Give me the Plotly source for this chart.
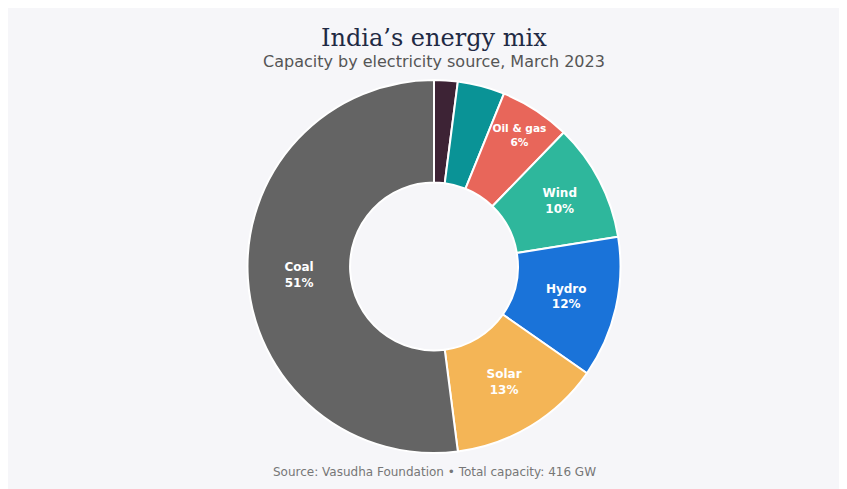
import plotly.graph_objects as go

labels = ["Nuclear", "Bioenergy", "Oil & gas", "Wind", "Hydro", "Solar", "Coal"]
shares = [2, 4, 6, 10, 12, 13, 51]
show_text = [False, False, True, True, True, True, True]
colors = ["#3D2335", "#0A9396", "#E8665A", "#2EB79C", "#1A73D9", "#F4B556", "#646464"]

texts = [f"<b>{l}<br>{v}%</b>" if s else "" for l, v, s in zip(labels, shares, show_text)]

fig = go.Figure(
    go.Pie(
        labels=labels,
        values=shares,
        text=texts,
        textinfo="text",
        textposition="inside",
        insidetextorientation="horizontal",
        hole=0.45,
        sort=False,
        direction="clockwise",
        rotation=0,
        marker=dict(colors=colors, line=dict(color="white", width=2)),
        textfont=dict(family="DejaVu Sans, sans-serif", size=12, color="white"),
        showlegend=False,
    )
)

T, B, L, R = 72, 44, 5, 0
plot_h = 489 - T - B
def py(ypix):
    return (489 - B - ypix) / plot_h

fig.update_layout(
    width=847,
    height=489,
    paper_bgcolor="#F6F6F9",
    plot_bgcolor="#F6F6F9",
    margin=dict(t=T, b=B, l=L, r=R),
    annotations=[
        dict(text="India’s energy mix", x=0.5, y=py(30), xref="paper", yref="paper",
             yanchor="middle", xanchor="center", showarrow=False,
             font=dict(family="DejaVu Serif, Georgia, serif", size=24, color="#1F2A44")),
        dict(text="Capacity by electricity source, March 2023", x=0.5, y=py(54), xref="paper", yref="paper",
             yanchor="middle", xanchor="center", showarrow=False,
             font=dict(family="DejaVu Sans, sans-serif", size=16, color="#555555")),
        dict(text="Source: Vasudha Foundation • Total capacity: 416 GW", x=0.5, y=py(464), xref="paper", yref="paper",
             yanchor="middle", xanchor="center", showarrow=False,
             font=dict(family="DejaVu Sans, sans-serif", size=12, color="#777777")),
    ],
)

fig.write_html("out.html")
